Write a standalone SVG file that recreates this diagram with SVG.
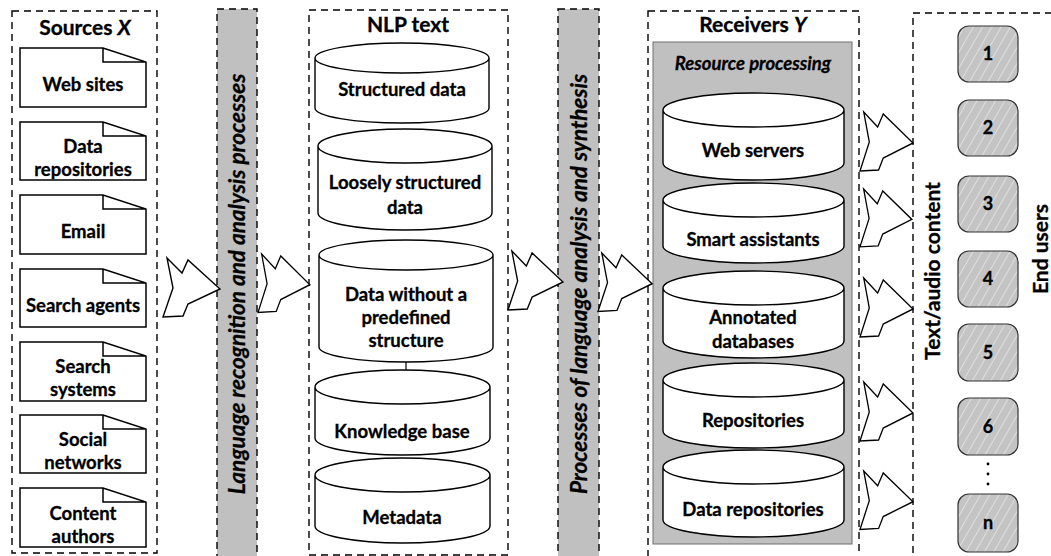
<svg xmlns="http://www.w3.org/2000/svg" width="1051" height="556" viewBox="0 0 1051 556">
  <style>
    .frame { fill: none; stroke: #000; stroke-width: 1.4; stroke-dasharray: 7 5; }
    .bar { fill: #c0c0c0; stroke: #000; stroke-width: 1.4; stroke-dasharray: 7 5; }
    .doc { fill: #fff; stroke: #000; stroke-width: 1.5; stroke-linejoin: miter; }
    .cyl { fill: #fff; stroke: #000; stroke-width: 1.4; }
    .arrow { fill: #fff; stroke: #000; stroke-width: 1.4; stroke-linejoin: miter; }
    .user { fill: url(#hatch); stroke: #333; stroke-width: 1.2; }
    text { font-family: Lato, "Liberation Sans", sans-serif; font-weight: bold; fill: #000; stroke: #000; stroke-width: 0.3; text-anchor: middle; }
    .title { font-size: 21px; }
    .lbl { font-size: 18.5px; }
    .num { font-size: 18px; }
    .vert { font-size: 22.5px; font-style: italic; }
    .side { font-size: 21px; }
  </style>
  <defs>
    <pattern id="hatch" patternUnits="userSpaceOnUse" width="8" height="8" patternTransform="rotate(30)">
      <rect width="8" height="8" fill="#c4c4c4"/>
      <line x1="0" y1="0" x2="0" y2="8" stroke="#e6e6e6" stroke-width="1.6"/>
    </pattern>
    <!-- zigzag block arrow, 57 x 60, tip at (57,31) -->
    <path id="zz" class="arrow" d="M4,0 L19,15 L25,2 L57,31 L25,46 L20,58 L0,59 L10,30 Z"/>
  </defs>

  <!-- frames and process bars -->
  <g id="frames">
    <rect class="frame" x="12" y="11" width="145" height="542"/>
    <rect class="frame" x="309" y="10" width="199" height="545"/>
    <rect class="frame" x="648" y="11" width="211" height="560"/>
    <rect class="frame" x="913" y="13" width="160" height="560"/>
  </g>

  <g id="bar-recognition">
    <rect class="bar" x="217" y="9" width="40" height="560"/>
    <text class="vert" transform="translate(245,284) rotate(-90)">Language recognition and analysis processes</text>
  </g>
  <g id="bar-synthesis">
    <rect class="bar" x="558" y="9" width="41" height="560"/>
    <text class="vert" transform="translate(587,284) rotate(-90)">Processes of language analysis and synthesis</text>
  </g>

  <!-- Sources X -->
  <g id="sources">
    <text class="title" x="85" y="35">Sources <tspan font-style="italic">X</tspan></text>
  </g>
  <g id="src-web">
    <path class="doc" d="M20,48 H103 L146,62 V107 H20 Z M103,48 V62 H146"/>
    <text class="lbl" x="83" y="91">Web sites</text>
  </g>
  <g id="src-repos">
    <path class="doc" d="M20,122 H103 L146,136 V180 H20 Z M103,122 V136 H146"/>
    <text class="lbl" x="83" y="153">Data</text>
    <text class="lbl" x="83" y="176">repositories</text>
  </g>
  <g id="src-email">
    <path class="doc" d="M20,195 H103 L146,209 V254 H20 Z M103,195 V209 H146"/>
    <text class="lbl" x="83" y="238">Email</text>
  </g>
  <g id="src-agents">
    <path class="doc" d="M20,269 H103 L146,283 V327 H20 Z M103,269 V283 H146"/>
    <text class="lbl" x="83" y="312">Search agents</text>
  </g>
  <g id="src-systems">
    <path class="doc" d="M20,342 H103 L146,356 V401 H20 Z M103,342 V356 H146"/>
    <text class="lbl" x="83" y="373">Search</text>
    <text class="lbl" x="83" y="396">systems</text>
  </g>
  <g id="src-social">
    <path class="doc" d="M20,415 H103 L146,429 V473 H20 Z M103,415 V429 H146"/>
    <text class="lbl" x="83" y="446">Social</text>
    <text class="lbl" x="83" y="469">networks</text>
  </g>
  <g id="src-authors">
    <path class="doc" d="M20,488 H103 L146,502 V547 H20 Z M103,488 V502 H146"/>
    <text class="lbl" x="83" y="520">Content</text>
    <text class="lbl" x="83" y="543">authors</text>
  </g>

  <!-- NLP text -->
  <g id="nlp">
    <text class="title" x="408" y="32">NLP text</text>
  </g>
  <g id="nlp-structured">
    <path class="cyl" d="M315,58 V108 A87,15 0 0 0 489,108 V58 A87,15 0 0 0 315,58 A87,15 0 0 0 489,58"/>
    <text class="lbl" x="402" y="96">Structured data</text>
  </g>
  <g id="nlp-loose">
    <path class="cyl" d="M318,146 V213 A87,17 0 0 0 492,213 V146 A87,17 0 0 0 318,146 A87,17 0 0 0 492,146"/>
    <text class="lbl" x="405" y="189">Loosely structured</text>
    <text class="lbl" x="405" y="214">data</text>
  </g>
  <g id="nlp-unstructured">
    <path class="cyl" d="M319,255 V347 A87,15 0 0 0 493,347 V255 A87,15 0 0 0 319,255 A87,15 0 0 0 493,255"/>
    <text class="lbl" x="406" y="301">Data without a</text>
    <text class="lbl" x="406" y="324">predefined</text>
    <text class="lbl" x="406" y="347">structure</text>
  </g>
  <g id="nlp-knowledge">
    <path class="cyl" d="M315,387 V438 A87.5,17 0 0 0 490,438 V387 A87.5,17 0 0 0 315,387 A87.5,17 0 0 0 490,387"/>
    <text class="lbl" x="402" y="438">Knowledge base</text>
  </g>
  <g id="nlp-metadata">
    <path class="cyl" d="M315,475 V526 A87.5,17 0 0 0 490,526 V475 A87.5,17 0 0 0 315,475 A87.5,17 0 0 0 490,475"/>
    <text class="lbl" x="402" y="524">Metadata</text>
  </g>

  <!-- Receivers Y -->
  <g id="receivers">
    <text class="title" x="753" y="32">Receivers <tspan font-style="italic">Y</tspan></text>
  </g>
  <g id="resource-processing">
    <rect x="653" y="42" width="199" height="502" fill="#c0c0c0" stroke="#6e6e6e" stroke-width="1"/>
    <text class="lbl" x="753" y="70" font-style="italic">Resource processing</text>
  </g>
  <g id="rcv-web">
    <path class="cyl" d="M663,110 V163 A90.5,17 0 0 0 844,163 V110 A90.5,17 0 0 0 663,110 A90.5,17 0 0 0 844,110"/>
    <text class="lbl" x="753" y="157">Web servers</text>
  </g>
  <g id="rcv-assistants">
    <path class="cyl" d="M663,200 V246 A90.5,17 0 0 0 844,246 V200 A90.5,17 0 0 0 663,200 A90.5,17 0 0 0 844,200"/>
    <text class="lbl" x="753" y="246">Smart assistants</text>
  </g>
  <g id="rcv-annotated">
    <path class="cyl" d="M663,288 V341 A90.5,17 0 0 0 844,341 V288 A90.5,17 0 0 0 663,288 A90.5,17 0 0 0 844,288"/>
    <text class="lbl" x="753" y="324">Annotated</text>
    <text class="lbl" x="753" y="348">databases</text>
  </g>
  <g id="rcv-repositories">
    <path class="cyl" d="M663,380 V431 A90.5,17 0 0 0 844,431 V380 A90.5,17 0 0 0 663,380 A90.5,17 0 0 0 844,380"/>
    <text class="lbl" x="753" y="427">Repositories</text>
  </g>
  <g id="rcv-datarepos">
    <path class="cyl" d="M663,467 V520 A90.5,17 0 0 0 844,520 V467 A90.5,17 0 0 0 663,467 A90.5,17 0 0 0 844,467"/>
    <text class="lbl" x="753" y="516">Data repositories</text>
  </g>

  <!-- End users -->
  <g id="end-users">
    <text class="side" transform="translate(940,271) rotate(-90)">Text/audio content</text>
    <text class="side" transform="translate(1048,249) rotate(-90)">End users</text>
  </g>
  <g id="user-1"><rect class="user" x="958" y="26" width="60" height="56" rx="11"/><text class="num" x="988" y="60">1</text></g>
  <g id="user-2"><rect class="user" x="958" y="100" width="60" height="56" rx="11"/><text class="num" x="988" y="134">2</text></g>
  <g id="user-3"><rect class="user" x="958" y="176" width="60" height="56" rx="11"/><text class="num" x="988" y="210">3</text></g>
  <g id="user-4"><rect class="user" x="958" y="251" width="60" height="56" rx="11"/><text class="num" x="988" y="285">4</text></g>
  <g id="user-5"><rect class="user" x="958" y="324" width="60" height="57" rx="11"/><text class="num" x="988" y="359">5</text></g>
  <g id="user-6"><rect class="user" x="958" y="398" width="60" height="57" rx="11"/><text class="num" x="988" y="433">6</text></g>
  <g id="user-ellipsis">
    <circle cx="988" cy="464" r="1.4" fill="#000"/>
    <circle cx="988" cy="474" r="1.4" fill="#000"/>
    <circle cx="988" cy="484" r="1.4" fill="#000"/>
  </g>
  <g id="user-n"><rect class="user" x="958" y="494" width="60" height="58" rx="11"/><text class="num" x="988" y="529">n</text></g>

  <!-- connectors -->
  <g id="connectors">
    <line x1="406" y1="362" x2="406" y2="370" stroke="#000" stroke-width="1.2"/>
    <use href="#zz" transform="translate(163,258)"/>
    <use href="#zz" transform="translate(258,254) scale(0.91,0.99)"/>
    <use href="#zz" transform="translate(508,251) scale(0.965,1)"/>
    <use href="#zz" transform="translate(598,253) scale(0.95,0.99)"/>
    <use href="#zz" transform="translate(860,112) scale(0.93,1)"/>
    <use href="#zz" transform="translate(860,189) scale(0.91,0.98)"/>
    <use href="#zz" transform="translate(860,278) scale(0.93,1)"/>
    <use href="#zz" transform="translate(860,382) scale(0.93,1)"/>
    <use href="#zz" transform="translate(860,471) scale(0.93,0.99)"/>
  </g>
</svg>
